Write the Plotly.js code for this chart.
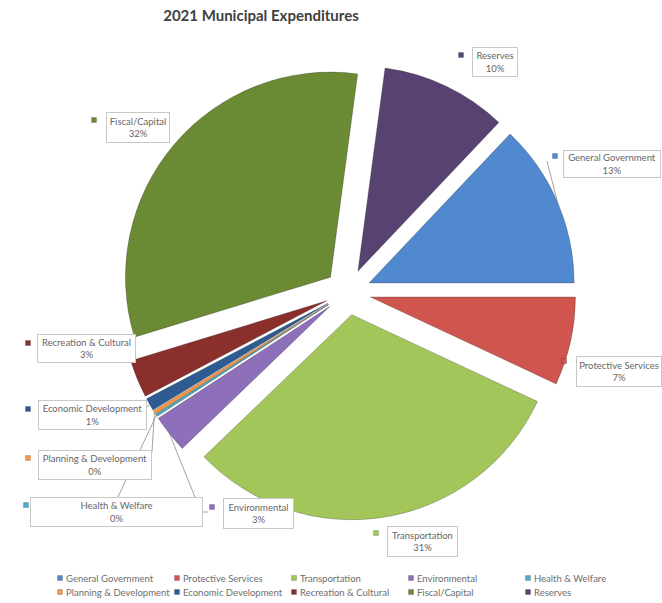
<!DOCTYPE html>
<html>
<head>
<meta charset="utf-8">
<script src="https://cdn.plot.ly/plotly-3.0.1.min.js"></script>
<style>html,body{margin:0;padding:0;background:#fff;}#chart{width:662px;height:603px;}</style>
</head>
<body>
<div id="chart"></div>
<script>
// ---- data ----
const categories = ["General Government", "Protective Services", "Transportation", "Environmental",
  "Health & Welfare", "Planning & Development", "Economic Development", "Recreation & Cultural",
  "Fiscal/Capital", "Reserves"];
const shares = [13, 7, 31, 3, 0.2, 0.3, 1, 3, 32, 10];
const sliceColors = ["#5189d0", "#d1554f", "#a3c65a", "#8d6fba", "#4bacc6", "#f79646",
  "#2d5b92", "#8a2f2c", "#6a8a34", "#574271"];

// ---- layout constants (pixels) ----
const W = 662, H = 603;
const px = x => x / W;
const py = y => 1 - y / H;
const PULL = 0.112;
const dom = {x0: 120, x1: 576, y0: 64, y1: 520};
const FONT = "Lato, 'Open Sans', sans-serif";

// label boxes: center, size, marker square, leader anchor
const boxes = [
  {c: [612, 164], s: [98, 28], m: [555, 156], lead: [547, 161]},
  {c: [619, 371], s: [86, 31], m: [564, 361], lead: null},
  {c: [422, 541], s: [71, 31], m: [376, 533], lead: null},
  {c: [258, 513], s: [71, 31], m: [212, 507], lead: [201, 512], bend: [208, 512]},
  {c: [116, 512], s: [173, 30], m: [26, 505], lead: [118, 497]},
  {c: [95, 465], s: [114, 30], m: [28, 458], lead: [152, 452]},
  {c: [92, 415], s: [109, 30], m: [28, 409], lead: [146, 408]},
  {c: [87, 348], s: [99, 29], m: [28, 343], lead: null},
  {c: [138, 127], s: [64, 31], m: [94, 120], lead: null},
  {c: [495, 62], s: [46, 30], m: [461, 55], lead: null}
];
// legend grid: 5 columns x 2 rows
const legendGrid = {x0: 60, dx: 117, y0: 578, dy: 14, cols: 5};

const total = shares.reduce((a, b) => a + b, 0);
const pctText = shares.map(v => Math.round(v / total * 100) + "%");
// make General Government end exactly at 3 o'clock
const rotation = 90 - 360 * shares[0] / total;

const trace = {
  type: "pie",
  labels: categories,
  values: shares,
  sort: false,
  direction: "clockwise",
  rotation: rotation,
  pull: shares.map(() => PULL),
  marker: {colors: sliceColors, line: {color: "rgba(40,40,40,0.35)", width: 0.8}},
  textinfo: "none",
  hoverinfo: "label+percent",
  showlegend: false,
  domain: {x: [px(dom.x0), px(dom.x1)], y: [py(dom.y1), py(dom.y0)]}
};

// pie geometry (same as Plotly's: r = min(w,h)/2/(1+maxPull))
const cx = (dom.x0 + dom.x1) / 2, cy = (dom.y0 + dom.y1) / 2;
const r = Math.min(dom.x1 - dom.x0, dom.y1 - dom.y0) / 2 / (1 + PULL);
const rho = r * (1 + PULL);

const annotations = [];
const shapes = [];
const square = (x, y, color) => ({
  type: "rect", xref: "paper", yref: "paper",
  x0: px(x - 2.5), x1: px(x + 2.5), y0: py(y + 2.5), y1: py(y - 2.5),
  fillcolor: color, line: {color: "rgba(0,0,0,0.35)", width: 0.5}
});
let cum = 0;
categories.forEach((name, i) => {
  const b = boxes[i];
  annotations.push({
    xref: "paper", yref: "paper", x: px(b.c[0]), y: py(b.c[1]),
    xanchor: "center", yanchor: "middle",
    text: name + "<br>" + pctText[i], showarrow: false,
    width: b.s[0] - 2, height: b.s[1] - 2, borderpad: 0,
    bgcolor: "#ffffff", bordercolor: "#c8c8c8", borderwidth: 1,
    align: "center", valign: "middle",
    font: {family: FONT, size: 9.5, color: "#666666"}
  });
  shapes.push(square(b.m[0], b.m[1], sliceColors[i]));
  const mid = (rotation + (cum + shares[i] / 2) / total * 360) * Math.PI / 180;
  cum += shares[i];
  if (b.lead) {
    const ex = cx + rho * Math.sin(mid), ey = cy - rho * Math.cos(mid);
    let path = "M" + px(b.lead[0]) + "," + py(b.lead[1]);
    if (b.bend) path = "M" + px(b.bend[0]) + "," + py(b.bend[1]) + " L" + px(b.lead[0]) + "," + py(b.lead[1]);
    path += " L" + px(ex) + "," + py(ey);
    shapes.push({type: "path", xref: "paper", yref: "paper", path: path,
      line: {color: "#8c8c8c", width: 0.8}});
  }
  // legend entry
  const lx = legendGrid.x0 + (i % legendGrid.cols) * legendGrid.dx;
  const ly = legendGrid.y0 + Math.floor(i / legendGrid.cols) * legendGrid.dy;
  shapes.push(square(lx, ly, sliceColors[i]));
  annotations.push({
    xref: "paper", yref: "paper", x: px(lx + 4), y: py(ly),
    xanchor: "left", yanchor: "middle", showarrow: false,
    text: name, font: {family: FONT, size: 9.5, color: "#6e6e6e"}
  });
});

const layout = {
  width: W, height: H,
  margin: {l: 0, r: 0, t: 0, b: 0},
  paper_bgcolor: "#ffffff",
  title: {
    text: "<b>2021 Municipal Expenditures</b>",
    x: px(261), xanchor: "center", xref: "paper",
    y: py(16), yanchor: "middle", yref: "paper",
    font: {family: FONT, size: 15, color: "#404040"}
  },
  showlegend: false,
  annotations: annotations,
  shapes: shapes
};

Plotly.newPlot("chart", [trace], layout, {displayModeBar: false, staticPlot: true});
</script>
</body>
</html>
